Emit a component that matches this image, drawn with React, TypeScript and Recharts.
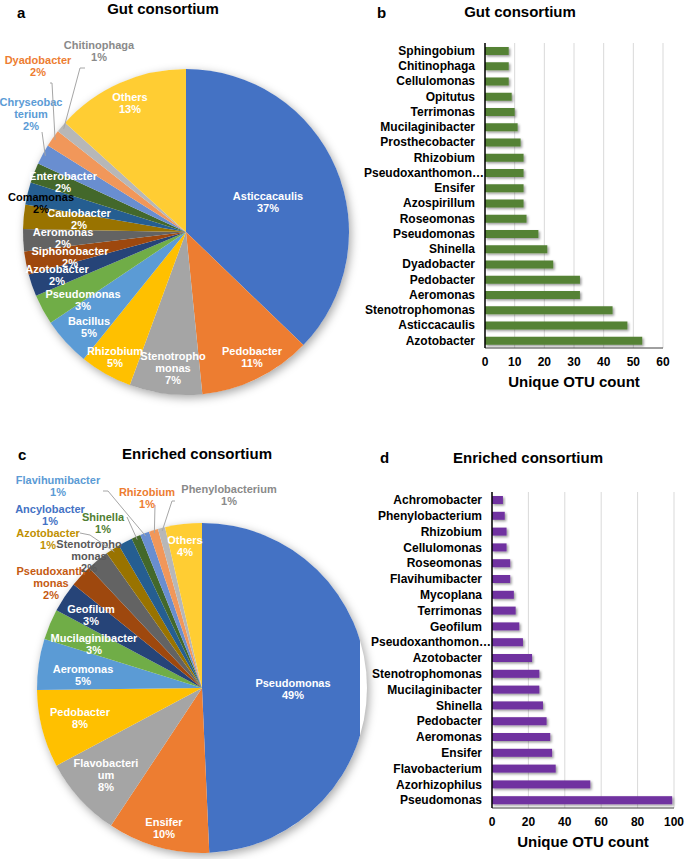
import { PieChart, Pie, Cell, BarChart, Bar, XAxis, YAxis, CartesianGrid } from "recharts";

const FONT = '"Liberation Sans", Arial, Helvetica, sans-serif';

// a: gut consortium, share of reads (%)
const gutGenera = [
  "Asticcacaulis", "Pedobacter", "Stenotrophomonas", "Rhizobium", "Bacillus", "Pseudomonas",
  "Azotobacter", "Siphonobacter", "Aeromonas", "Caulobacter", "Comamonas", "Enterobacter",
  "Chryseobacterium", "Dyadobacter", "Chitinophaga", "Others",
];
const gutShare = [37.2, 11.2, 7.2, 5.2, 4.8, 3.0, 2.2, 2.3, 2.2, 2.4, 2.2, 2.0, 2.0, 1.7, 1.1, 13.3];

// c: enriched consortium, share (%)
const enrichedGenera = [
  "Pseudomonas", "Ensifer", "Flavobacterium", "Pedobacter", "Aeromonas", "Mucilaginibacter",
  "Geofilum", "Pseudoxanthomonas", "Stenotrophomonas", "Azotobacter", "Ancylobacter", "Shinella",
  "Flavihumibacter", "Rhizobium", "Phenylobacterium", "Others",
];
const enrichedShare = [49.3, 10, 7.9, 7.6, 5, 3, 3, 2.2, 2.2, 1.4, 1.4, 0.9, 0.9, 0.9, 0.7, 3.6];

// b: gut consortium, unique OTU count
const gutOtuGenera = [
  "Sphingobium", "Chitinophaga", "Cellulomonas", "Opitutus", "Terrimonas", "Mucilaginibacter",
  "Prosthecobacter", "Rhizobium", "Pseudoxanthomonas", "Ensifer", "Azospirillum", "Roseomonas",
  "Pseudomonas", "Shinella", "Dyadobacter", "Pedobacter", "Aeromonas", "Stenotrophomonas",
  "Asticcacaulis", "Azotobacter",
];
const gutOtuCount = [8, 8, 8, 9, 10, 11, 12, 13, 13, 13, 13, 14, 18, 21, 23, 32, 32, 43, 48, 53];
const gutTicks = [0, 10, 20, 30, 40, 50, 60];

// d: enriched consortium, unique OTU count
const enrichedOtuGenera = [
  "Achromobacter", "Phenylobacterium", "Rhizobium", "Cellulomonas", "Roseomonas", "Flavihumibacter",
  "Mycoplana", "Terrimonas", "Geofilum", "Pseudoxanthomonas", "Azotobacter", "Stenotrophomonas",
  "Mucilaginibacter", "Shinella", "Pedobacter", "Aeromonas", "Ensifer", "Flavobacterium",
  "Azorhizophilus", "Pseudomonas",
];
const enrichedOtuCount = [6, 7, 8, 8, 10, 10, 12, 13, 15, 17, 22, 26, 26, 28, 30, 32, 33, 35, 54, 99];
const enrichedTicks = [0, 20, 40, 60, 80, 100];

// office palette, in slice order
const PALETTE = [
  "#4472c4", "#ed7d31", "#a5a5a5", "#ffc000", "#5b9bd5", "#70ad47", "#264478", "#9e480e",
  "#636363", "#997300", "#255e91", "#43682b", "#698ed0", "#f1975a", "#b7b7b7", "#ffcd33",
];

type LabelPlace = {
  dx: number;
  dy: number;
  lines?: string[];
  color?: string;
  leader?: [number, number][];
};

// label spots relative to pie centre (excel "best fit" layout)
const gutLabels: Record<string, LabelPlace> = {
  Asticcacaulis: { dx: 82, dy: -30 },
  Pedobacter: { dx: 66, dy: 125 },
  Stenotrophomonas: { dx: -13, dy: 136, lines: ["Stenotropho", "monas"] },
  Rhizobium: { dx: -71, dy: 125 },
  Bacillus: { dx: -97, dy: 95 },
  Pseudomonas: { dx: -103, dy: 68 },
  Azotobacter: { dx: -129, dy: 43 },
  Siphonobacter: { dx: -116, dy: 25 },
  Aeromonas: { dx: -123, dy: 6 },
  Caulobacter: { dx: -107, dy: -13 },
  Comamonas: { dx: -145, dy: -29, color: "#000" },
  Enterobacter: { dx: -123, dy: -50 },
  Chryseobacterium: { dx: -155, dy: -118, lines: ["Chryseobac", "terium"], color: "#5b9bd5", leader: [[-144, -100]] },
  Dyadobacter: { dx: -148, dy: -166, color: "#ed7d31", leader: [[-136, -149], [-134, -149]] },
  Chitinophaga: { dx: -87, dy: -181, color: "#8a8a8a", leader: [[-101, -164], [-106, -164]] },
  Others: { dx: -56, dy: -129 },
};

const enrichedLabels: Record<string, LabelPlace> = {
  Pseudomonas: { dx: 91, dy: 1 },
  Ensifer: { dx: -38, dy: 140 },
  Flavobacterium: { dx: -96, dy: 87, lines: ["Flavobacteri", "um"] },
  Pedobacter: { dx: -122, dy: 30 },
  Aeromonas: { dx: -119, dy: -13 },
  Mucilaginibacter: { dx: -108, dy: -44 },
  Geofilum: { dx: -111, dy: -73 },
  Pseudoxanthomonas: { dx: -151, dy: -105, lines: ["Pseudoxanth", "monas"], color: "#c55a11" },
  Stenotrophomonas: { dx: -113, dy: -132, lines: ["Stenotropho", "monas"], color: "#595959" },
  Azotobacter: { dx: -154, dy: -149, color: "#bf9000", leader: [[-122, -155], [-112, -153]] },
  Ancylobacter: { dx: -152, dy: -173, color: "#4472c4" },
  Shinella: { dx: -99, dy: -165, color: "#507e32", leader: [[-75, -171]] },
  Flavihumibacter: { dx: -144, dy: -202, color: "#5b9bd5", leader: [[-99, -197], [-94, -197]] },
  Rhizobium: { dx: -55, dy: -190, color: "#ed7d31", leader: [[-47, -183]] },
  Phenylobacterium: { dx: 27, dy: -193, color: "#8a8a8a", leader: [[-27, -187], [-30, -187]] },
  Others: { dx: -17, dy: -142 },
};

const LINE_H = 12;

function makePieLabel(place: Record<string, LabelPlace>) {
  return (props: any) => {
    const { cx, cy, midAngle, outerRadius, percent, name } = props;
    const p = place[name];
    if (!p) return null;
    const lines = [...(p.lines ?? [name]), `${Math.round(percent * 100)}%`];
    const x = cx + p.dx;
    const first = cy + p.dy - ((lines.length - 1) * LINE_H) / 2 + 4;
    let leader = null;
    if (p.leader) {
      const rad = (-midAngle * Math.PI) / 180;
      const end = [cx + (outerRadius - 3) * Math.cos(rad), cy + (outerRadius - 3) * Math.sin(rad)];
      const pts = [...p.leader.map(([a, b]) => [cx + a, cy + b]), end];
      leader = (
        <polyline points={pts.map((q) => q.join(",")).join(" ")} fill="none" stroke="#a6a6a6" strokeWidth={1} />
      );
    }
    return (
      <g>
        {leader}
        <text x={x} y={first} textAnchor="middle" fill={p.color ?? "#fff"} fontSize={11} fontWeight={700} fontFamily={FONT}>
          {lines.map((l, i) => (
            <tspan key={i} x={x} y={first + i * LINE_H}>
              {l}
            </tspan>
          ))}
        </text>
      </g>
    );
  };
}

function SharePie({ names, values, labels, width, height, cx, cy, r }: {
  names: string[]; values: number[]; labels: Record<string, LabelPlace>;
  width: number; height: number; cx: number; cy: number; r: number;
}) {
  const data = names.map((name, i) => ({ name, value: values[i] }));
  return (
    <div style={{ position: "relative", width, height }}>
      <div
        style={{
          position: "absolute", left: cx - r, top: cy - r, width: 2 * r, height: 2 * r,
          borderRadius: "50%", boxShadow: "2px 3px 10px rgba(0,0,0,0.35)",
        }}
      />
      <div style={{ position: "absolute", left: 0, top: 0 }}>
        <PieChart width={width} height={height} margin={{ top: 0, right: 0, bottom: 0, left: 0 }}>
          <Pie
            data={data}
            dataKey="value"
            nameKey="name"
            cx={cx}
            cy={cy}
            outerRadius={r}
            startAngle={90}
            endAngle={-270}
            stroke="none"
            label={makePieLabel(labels)}
            labelLine={false}
            isAnimationActive={false}
          >
            {data.map((_, i) => <Cell key={i} fill={PALETTE[i % PALETTE.length]} />)}
          </Pie>
        </PieChart>
      </div>
    </div>
  );
}

const shorten = (v: string) => (v.length > 16 ? v.slice(0, 15) + "…" : v);
const tickStyle = { fill: "#000", fontSize: 12, fontWeight: 700, fontFamily: FONT };

// excel lets a truncated category label run up to the axis
const CategoryTick = (props: any) => {
  const { x, y, payload } = props;
  const label = shorten(String(payload.value));
  const shift = label !== payload.value ? 9 : 0;
  return (
    <text x={x + shift} y={y} dy="0.355em" textAnchor="end" {...tickStyle}>
      {label}
    </text>
  );
};

function OtuBars({ names, counts, ticks, color, width, height, top, bottom, yWidth, right, id }: {
  names: string[]; counts: number[]; ticks: number[]; color: string;
  width: number; height: number; top: number; bottom: number; yWidth: number; right: number; id: string;
}) {
  const data = names.map((name, i) => ({ name, count: counts[i] }));
  const ShadowBar = (props: any) => (
    <rect x={props.x} y={props.y} width={props.width} height={props.height} fill={color} filter={`url(#${id})`} />
  );
  return (
    <BarChart
      width={width}
      height={height}
      data={data}
      layout="vertical"
      margin={{ top, right, bottom, left: 0 }}
    >
      <defs>
        <filter id={id} x="-10%" y="-40%" width="130%" height="200%">
          <feDropShadow dx={1.5} dy={1.5} stdDeviation={1} floodColor="#000" floodOpacity={0.4} />
        </filter>
      </defs>
      <CartesianGrid horizontal={false} stroke="#d9d9d9" />
      <XAxis
        type="number"
        domain={[ticks[0], ticks[ticks.length - 1]]}
        ticks={ticks}
        height={50}
        axisLine={{ stroke: "#404040" }}
        tickLine={false}
        tickMargin={3}
        tick={tickStyle}
        label={{ value: "Unique OTU count", position: "insideBottom", offset: 11, fill: "#000", fontSize: 15, fontWeight: 700, fontFamily: FONT }}
      />
      <YAxis
        type="category"
        dataKey="name"
        width={yWidth}
        interval={0}
        axisLine={{ stroke: "#000", strokeWidth: 1.5 }}
        tickLine={false}
        tickMargin={4}
        tick={CategoryTick}
      />
      <Bar dataKey="count" barSize={8} fill={color} shape={ShadowBar} isAnimationActive={false} />
    </BarChart>
  );
}

export default function App() {
  const title = { fontFamily: FONT, fontWeight: 700, fontSize: 15, fill: "#000" } as const;
  return (
    <div style={{ position: "absolute", left: 0, top: 0, width: 685, height: 859, background: "#fff", fontFamily: FONT }}>
      <div style={{ position: "absolute", left: 0, top: 0 }}>
        <SharePie names={gutGenera} values={gutShare} labels={gutLabels} width={360} height={420} cx={186} cy={232} r={163} />
      </div>
      <div style={{ position: "absolute", left: 0, top: 430 }}>
        <SharePie names={enrichedGenera} values={enrichedShare} labels={enrichedLabels} width={360} height={429} cx={202} cy={258} r={165} />
      </div>
      <div style={{ position: "absolute", left: 360, top: 0 }}>
        <OtuBars names={gutOtuGenera} counts={gutOtuCount} ticks={gutTicks} color="#548235"
          width={325} height={400} top={43} bottom={2} yWidth={125} right={22} id="shadowB" />
      </div>
      <div style={{ position: "absolute", left: 360, top: 430 }}>
        <OtuBars names={enrichedOtuGenera} counts={enrichedOtuCount} ticks={enrichedTicks} color="#7030a0"
          width={325} height={429} top={62} bottom={1} yWidth={132} right={11} id="shadowD" />
      </div>
      <svg width={685} height={859} style={{ position: "absolute", left: 0, top: 0, pointerEvents: "none" }}>
        <text x={17} y={18} {...title}>a</text>
        <text x={163} y={14} textAnchor="middle" {...title}>Gut consortium</text>
        <text x={377} y={18} {...title}>b</text>
        <text x={520} y={17} textAnchor="middle" {...title}>Gut consortium</text>
        <text x={18} y={460} {...title}>c</text>
        <text x={197} y={459} textAnchor="middle" {...title}>Enriched consortium</text>
        <text x={380} y={463} {...title}>d</text>
        <text x={528} y={463} textAnchor="middle" {...title}>Enriched consortium</text>
      </svg>
    </div>
  );
}
